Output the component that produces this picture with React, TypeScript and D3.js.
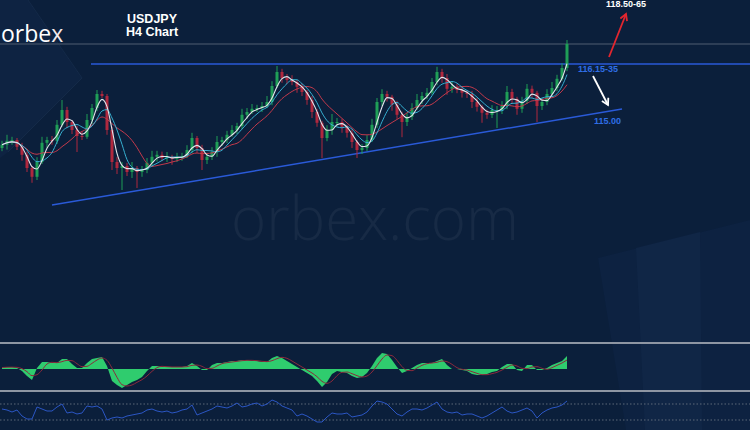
import React from "react";
import * as d3 from "d3";

const W = 750;
const H = 430;

// Candle closes (USDJPY H4)
const firstOpen = 114.15;
const closes = [
  114.23, 114.33, 114.35, 114.18, 113.98, 113.65, 113.43, 113.8, 114.28, 114.35,
  114.33, 114.73, 115.1, 114.8, 114.6, 114.45, 114.43, 114.85, 115.15, 115.5,
  115.45, 114.6, 113.8, 113.65, 113.7, 113.55, 113.65, 113.55, 113.6, 113.78,
  113.93, 113.98, 113.9, 113.93, 113.88, 113.93, 113.95, 114.1, 114.4, 114.15,
  113.85, 113.93, 114.05, 114.3, 114.35, 114.48, 114.6, 114.7, 114.98, 115.05,
  115.13, 115.15, 115.2, 115.3, 115.7, 116.05, 115.9, 115.85, 115.8, 115.68,
  115.55, 115.35, 115.05, 114.78, 114.4, 114.6, 114.8, 114.8, 114.68, 114.53,
  114.3, 114.1, 114.15, 114.35, 114.73, 115.3, 115.5, 115.43, 115.23, 114.98,
  114.8, 114.93, 115.15, 115.35, 115.45, 115.53, 115.8, 116.05, 115.9, 115.63,
  115.68, 115.6, 115.53, 115.5, 115.3, 115.18, 115.03, 114.98, 115.1, 115.1,
  115.2, 115.55, 115.38, 115.13, 115.33, 115.63, 115.53, 115.2, 115.3, 115.5,
  115.65, 115.88, 116.15, 116.75,
];
// upper / lower wick lengths (yen)
const wickUp = [
  0.1, 0.15, 0.08, 0.05, 0.1, 0.08, 0.05, 0.12, 0.15, 0.08,
  0.1, 0.12, 0.25, 0.08, 0.05, 0.1, 0.12, 0.15, 0.1, 0.1,
  0.08, 0.05, 0.08, 0.12, 0.1, 0.08, 0.15, 0.05, 0.1, 0.12,
  0.15, 0.1, 0.08, 0.12, 0.05, 0.1, 0.08, 0.12, 0.13, 0.05,
  0.08, 0.1, 0.12, 0.15, 0.08, 0.1, 0.12, 0.08, 0.15, 0.1,
  0.12, 0.08, 0.1, 0.15, 0.12, 0.15, 0.08, 0.1, 0.12, 0.05,
  0.08, 0.05, 0.1, 0.08, 0.05, 0.12, 0.2, 0.1, 0.08, 0.05,
  0.08, 0.05, 0.1, 0.12, 0.15, 0.1, 0.12, 0.08, 0.05, 0.1,
  0.08, 0.1, 0.12, 0.15, 0.1, 0.12, 0.1, 0.13, 0.08, 0.1,
  0.12, 0.08, 0.1, 0.05, 0.08, 0.1, 0.05, 0.08, 0.12, 0.1,
  0.12, 0.15, 0.08, 0.05, 0.1, 0.12, 0.08, 0.05, 0.1, 0.12,
  0.15, 0.1, 0.12, 0.1,
];
const wickDn = [
  0.08, 0.12, 0.1, 0.08, 0.15, 0.1, 0.15, 0.08, 0.05, 0.12,
  0.1, 0.08, 0.05, 0.15, 0.1, 0.4, 0.08, 0.05, 0.1, 0.08,
  0.05, 0.12, 0.2, 0.15, 0.55, 0.1, 0.15, 0.4, 0.12, 0.08,
  0.1, 0.12, 0.08, 0.1, 0.15, 0.08, 0.1, 0.05, 0.08, 0.12,
  0.25, 0.1, 0.08, 0.12, 0.1, 0.08, 0.05, 0.1, 0.08, 0.1,
  0.05, 0.08, 0.1, 0.05, 0.08, 0.05, 0.12, 0.1, 0.08, 0.15,
  0.1, 0.12, 0.15, 0.1, 0.5, 0.08, 0.12, 0.1, 0.15, 0.12,
  0.15, 0.2, 0.1, 0.08, 0.05, 0.08, 0.1, 0.12, 0.15, 0.1,
  0.38, 0.1, 0.08, 0.05, 0.1, 0.08, 0.05, 0.08, 0.12, 0.15,
  0.1, 0.08, 0.12, 0.1, 0.15, 0.12, 0.25, 0.1, 0.08, 0.45,
  0.1, 0.08, 0.12, 0.15, 0.1, 0.08, 0.12, 0.4, 0.1, 0.08,
  0.05, 0.08, 0.05, 0.08,
];
// MACD main (pips)
const macdMain = [
  1.5, 2, 2, 1, -2, -7, -11, 1, 7, 7,
  6, 6, 10, 10, 5, 1, 1, 6, 10, 11,
  12, 3, -12, -16, -19, -16, -13, -11, -8, -2,
  3, 3, 2, 2, 2, 2, 2, 3, 6, 3,
  -1, -1, 4, 6, 6, 7, 8, 8, 9, 9,
  8, 8, 7, 7, 11, 13, 11, 8, 5, 2,
  -1, -4, -7, -12, -18, -13, -5, -2, -3, -4,
  -7, -9, -8, -4, 3, 11, 16, 15, 9, 2,
  -4, -2, 1, 4, 6, 6, 6, 8, 10, 4,
  0, 0, -1, -2, -5, -6, -6, -5, -3, -2,
  2, 5, 5, -1, -2, 4, 4, -1, -1, 1,
  4, 6, 8, 13,
];
// RSI
const rsiValues = [
  57.5, 55, 50, 55, 40, 32.5, 32.5, 62.5, 57.5, 52.5,
  52.5, 62.5, 70, 47.5, 50, 45, 47.5, 65, 62.5, 65,
  57.5, 30, 35, 37.5, 35, 40, 42.5, 45, 47.5, 55,
  57.5, 52.5, 50, 52.5, 47.5, 50, 55, 57.5, 67.5, 42.5,
  47.5, 52.5, 57.5, 65, 62.5, 60, 65, 72.5, 62.5, 65,
  70, 72.5, 65, 70, 80, 75, 65, 60, 55, 40,
  45, 40, 32.5, 25, 25, 37.5, 47.5, 45, 45, 47.5,
  37.5, 40, 42.5, 50, 65, 77.5, 75, 70, 57.5, 45,
  40, 50, 57.5, 57.5, 55, 60, 67.5, 75, 57.5, 50,
  47.5, 50, 42.5, 45, 45, 40, 35, 40, 47.5, 55,
  62.5, 52.5, 47.5, 50, 55, 60, 52.5, 35, 47.5, 55,
  60, 62.5, 67.5, 77.5,
];
const rsiLevels = [70, 30];

const resistance = 116.25;
const trendStart = { i: 10, p: 112.725 };
const trendEnd = { i: 124, p: 115.125 };

const title = ["USDJPY", "H4 Chart"];
const labelResistance = "116.15-35";
const labelSupport = "115.00";
const labelTarget = "118.50-65";

function sma(arr: number[], n: number) {
  return arr.map((_, i) => {
    const s = Math.max(0, i - n + 1);
    return d3.mean(arr.slice(s, i + 1)) as number;
  });
}

export default function App() {
  const n = closes.length;
  const x = d3.scaleLinear().domain([0, n - 1]).range([2, 567]);
  const y = d3.scaleLinear().domain([117.85, 112.85]).range([0, 200]);
  const ym = d3.scaleLinear().domain([-24, 24]).range([393, 345]);
  const yr = d3.scaleLinear().domain([0, 100]).range([432, 392]);

  const candles = closes.map((c, i) => {
    const o = i === 0 ? firstOpen : closes[i - 1];
    const hi = Math.max(o, c) + wickUp[i];
    const lo = Math.min(o, c) - wickDn[i];
    return { i, o, c, hi, lo, up: c >= o };
  });

  const maLine = d3
    .line<number>()
    .x((_, i) => x(i))
    .y((v) => y(v))
    .curve(d3.curveMonotoneX);

  const ma1 = sma(closes, 3);
  const ma2 = sma(closes, 5);
  const ma3 = sma(closes, 9);

  const macdArea = d3
    .area<number>()
    .x((_, i) => x(i))
    .y0(ym(0))
    .y1((v) => ym(v));
  const signal = sma(macdMain, 3);
  const sigLine = d3
    .line<number>()
    .x((_, i) => x(i))
    .y((v) => ym(v))
    .curve(d3.curveMonotoneX);
  const rsiLine = d3
    .line<number>()
    .x((_, i) => x(i))
    .y((v) => yr(v));

  const blue = "#2a5ad8";

  return (
    <svg
      width={W}
      height={H}
      style={{ position: "absolute", left: 0, top: 0, display: "block" }}
    >
      <defs>
        <marker id="ahRed" viewBox="0 0 10 10" refX="8" refY="5" markerWidth="5" markerHeight="5" orient="auto">
          <path d="M1,1 L8,5 L1,9" fill="none" stroke="#e3262f" strokeWidth="2" />
        </marker>
        <marker id="ahWhite" viewBox="0 0 10 10" refX="8" refY="5" markerWidth="5" markerHeight="5" orient="auto">
          <path d="M1,1 L8,5 L1,9" fill="none" stroke="#ffffff" strokeWidth="2" />
        </marker>
      </defs>
      <rect width={W} height={H} fill="#0b1f3b" />
      {/* background decoration */}
      <polygon points="0,0 28,0 82,78 8,152 0,158" fill="#0e2342" />
      <polyline points="28,0 82,78 8,152" fill="none" stroke="#142a48" strokeWidth={1} />
      <polygon points="598,258 750,220 750,430 626,430" fill="#0d2241" />
      <polygon points="636,248 700,232 702,430 645,430" fill="#102646" />
      <text
        x={375}
        y={240}
        textAnchor="middle"
        fontFamily="'Open Sans', sans-serif"
        fontWeight={300}
        fontSize={60}
        fill="#ffffff"
        fillOpacity={0.05}
      >
        orbex.com
      </text>

      {/* logo & title */}
      <text x={1} y={42} fontFamily="'Open Sans', sans-serif" fontSize={23} fill="#ffffff">
        orbe<tspan fill="#f3e9ea">x</tspan>
      </text>
      <g fontFamily="'Liberation Sans', Arial, sans-serif" fontWeight="bold" fontSize={12.5} fill="#ffffff" textAnchor="middle">
        <text x={152} y={23}>{title[0]}</text>
        <text x={152} y={36}>{title[1]}</text>
      </g>
      <line x1={0} x2={W} y1={44} y2={44} stroke="#3a4a60" strokeWidth={1.5} />

      {/* levels */}
      <line x1={91} x2={W} y1={y(resistance)} y2={y(resistance)} stroke={blue} strokeWidth={1.5} />
      <line
        x1={x(trendStart.i)}
        y1={y(trendStart.p)}
        x2={x(trendEnd.i)}
        y2={y(trendEnd.p)}
        stroke={blue}
        strokeWidth={1.5}
      />

      {/* candles */}
      <g>
        {candles.map((d) => {
          const col = d.up ? "#1f9e57" : "#b0283e";
          const top = y(Math.max(d.o, d.c));
          const bot = y(Math.min(d.o, d.c));
          return (
            <g key={d.i}>
              <line x1={x(d.i)} x2={x(d.i)} y1={y(d.hi)} y2={y(d.lo)} stroke={col} strokeWidth={1} />
              <rect x={x(d.i) - 1.5} width={3} y={top} height={Math.max(1, bot - top)} fill={col} />
            </g>
          );
        })}
      </g>
      <path d={maLine(ma3) || ""} fill="none" stroke="#c2394b" strokeWidth={1} />
      <path d={maLine(ma2) || ""} fill="none" stroke="#36afd0" strokeWidth={1} />
      <path d={maLine(ma1) || ""} fill="none" stroke="#e4e6ec" strokeWidth={1.1} />

      {/* annotations */}
      <g fontFamily="'Liberation Sans', Arial, sans-serif" fontWeight="bold" fontSize={9}>
        <text x={578} y={72} fill="#2f6ee6">{labelResistance}</text>
        <text x={594} y={124} fill="#2f6ee6">{labelSupport}</text>
        <text x={606} y={7} fill="#ffffff">{labelTarget}</text>
      </g>
      <line x1={609} y1={57} x2={626} y2={14} stroke="#e3262f" strokeWidth={1.8} markerEnd="url(#ahRed)" />
      <line x1={593} y1={76} x2={608} y2={105} stroke="#ffffff" strokeWidth={1.8} markerEnd="url(#ahWhite)" />

      {/* MACD panel */}
      <line x1={0} x2={W} y1={343} y2={343} stroke="#8e96a3" strokeWidth={2} />
      <path d={macdArea(macdMain) || ""} fill="#2fcc6e" />
      <path d={sigLine(signal) || ""} fill="none" stroke="#8a2a3c" strokeWidth={1} />
      <line x1={0} x2={W} y1={391} y2={391} stroke="#8e96a3" strokeWidth={2} />

      {/* RSI panel */}
      {rsiLevels.map((lv) => (
        <line
          key={lv}
          x1={0}
          x2={W}
          y1={yr(lv)}
          y2={yr(lv)}
          stroke="#5d6879"
          strokeWidth={1}
          strokeDasharray="1.5,2"
        />
      ))}
      <path d={rsiLine(rsiValues) || ""} fill="none" stroke="#2b56c4" strokeWidth={1} />
    </svg>
  );
}
